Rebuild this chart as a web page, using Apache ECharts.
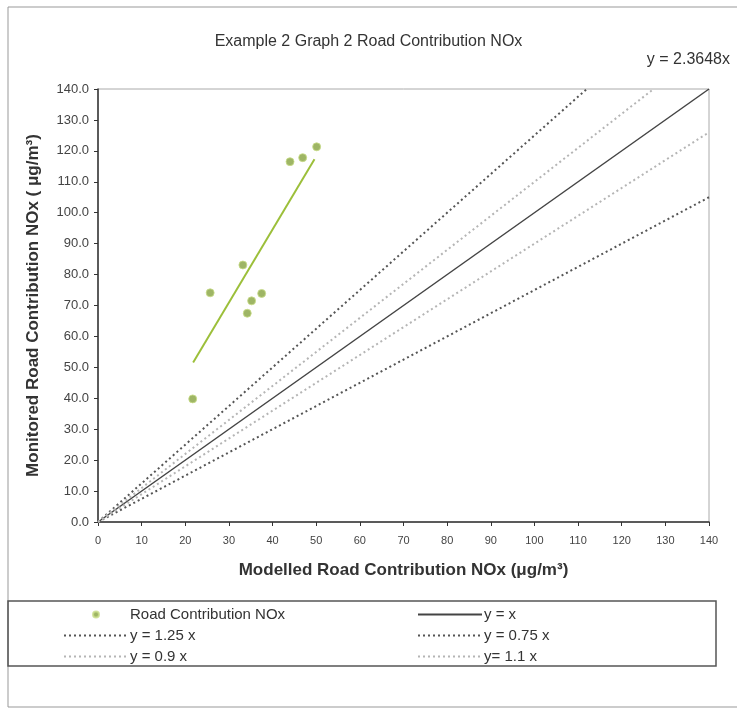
<!DOCTYPE html>
<html>
<head>
<meta charset="utf-8">
<script src="https://cdn.jsdelivr.net/npm/echarts@6/dist/echarts.min.js"></script>
<style>
html, body { margin: 0; padding: 0; background: #fff; }
#chart { width: 737px; height: 715px; }
</style>
</head>
<body>
<div id="chart"></div>
<script>
// measured points (modelled, monitored)
var roadPoints = [
    [21.7, 39.8], [25.7, 74.1], [33.2, 83.1], [34.2, 67.5], [35.2, 71.5],
    [37.5, 73.9], [44.0, 116.5], [46.9, 117.8], [50.1, 121.3]
];
// trendline y = 2.3648x, drawn over the data range
var trendLine = [[21.8, 51.6], [49.6, 117.3]];
// reference lines, end points inside the 0..140 box
var lineYX = [[0, 0], [140, 140]];
var line125 = [[0, 0], [112, 140]];
var line075 = [[0, 0], [140, 105]];
var line090 = [[0, 0], [140, 126]];
var line110 = [[0, 0], [127.3, 140]];
var axisMax = 140;
var axisStep = 10;

var chart = echarts.init(document.getElementById('chart'));
var font = 'Liberation Sans, Arial, sans-serif';
var darkDot = '#555';
var lightDot = '#b5b5b5';

function refLine(name, data, color, type, width) {
    return {
        name: name,
        type: 'line',
        data: data,
        symbol: 'none',
        silent: true,
        animation: false,
        lineStyle: { color: color, type: type, width: width },
        itemStyle: { color: color }
    };
}
// legend entry for a line: hide the little marker, keep the stroke
function lineItem(name) {
    return { name: name, itemStyle: { opacity: 0 } };
}

var legendText = { fontSize: 15, lineHeight: 17, color: '#333', fontFamily: font, padding: [0, 0, 0, -3] };

var option = {
    animation: false,
    textStyle: { fontFamily: font },
    title: {
        text: 'Example 2 Graph 2 Road Contribution NOx',
        left: 'center',
        top: 29,
        textStyle: { fontSize: 16, fontWeight: 'normal', color: '#333', fontFamily: font }
    },
    grid: {
        left: 98, right: 28, top: 89, bottom: 193,
        show: true, borderColor: '#aaa', borderWidth: 1
    },
    xAxis: {
        type: 'value',
        min: 0, max: axisMax, interval: axisStep,
        name: 'Modelled Road Contribution NOx (μg/m³)',
        nameLocation: 'middle',
        nameGap: 40,
        nameTextStyle: { fontSize: 17, fontWeight: 'bold', color: '#333', fontFamily: font },
        axisLine: { lineStyle: { color: '#333', width: 1.5 } },
        axisTick: { show: true, length: 4, lineStyle: { color: '#333' } },
        axisLabel: { fontSize: 11, color: '#444', margin: 13 },
        splitLine: { show: false }
    },
    yAxis: {
        type: 'value',
        min: 0, max: axisMax, interval: axisStep,
        name: 'Monitored Road Contribution NOx ( μg/m³)',
        nameLocation: 'middle',
        nameGap: 56,
        nameTextStyle: { fontSize: 17, fontWeight: 'bold', color: '#333', fontFamily: font },
        axisLine: { show: true, lineStyle: { color: '#333', width: 1.5 } },
        axisTick: { show: true, length: 4, lineStyle: { color: '#333' } },
        axisLabel: {
            fontSize: 13, color: '#444', margin: 9,
            formatter: function (v) { return v.toFixed(1); }
        },
        splitLine: { show: false }
    },
    legend: [{
        left: 58, top: 601, orient: 'vertical',
        itemWidth: 64, itemHeight: 6, itemGap: 4,
        textStyle: legendText,
        data: ['Road Contribution NOx', lineItem('y = 1.25 x'), lineItem('y = 0.9 x')]
    }, {
        left: 412, top: 601, orient: 'vertical',
        itemWidth: 64, itemHeight: 6, itemGap: 4,
        textStyle: legendText,
        data: [lineItem('y = x'), lineItem('y = 0.75 x'), lineItem('y= 1.1 x')]
    }],
    graphic: [{
        type: 'rect',
        shape: { x: 8, y: 7, width: 740, height: 700 },
        style: { fill: 'none', stroke: '#999', lineWidth: 1 },
        silent: true
    }, {
        type: 'rect',
        shape: { x: 8, y: 601, width: 708, height: 65 },
        style: { fill: 'none', stroke: '#555', lineWidth: 1.5 },
        silent: true
    }, {
        type: 'text',
        right: 7, top: 52,
        style: { text: 'y = 2.3648x', fill: '#333', font: '16px ' + font },
        silent: true
    }],
    series: [
        refLine('y = x', lineYX, '#444', 'solid', 1.5),
        refLine('y = 1.25 x', line125, darkDot, [2, 3], 2),
        refLine('y = 0.75 x', line075, darkDot, [2, 3], 2),
        refLine('y = 0.9 x', line090, lightDot, [2, 3], 2),
        refLine('y= 1.1 x', line110, lightDot, [2, 3], 2),
        {
            name: 'trend',
            type: 'line',
            data: trendLine,
            symbol: 'none',
            silent: true,
            lineStyle: { color: '#9cbf3a', width: 2 }
        },
        {
            name: 'Road Contribution NOx',
            type: 'scatter',
            data: roadPoints,
            symbol: 'circle',
            symbolSize: 8,
            itemStyle: { color: '#86a33e', borderColor: '#c9dd88', borderWidth: 1 }
        }
    ]
};
chart.setOption(option);
</script>
</body>
</html>
